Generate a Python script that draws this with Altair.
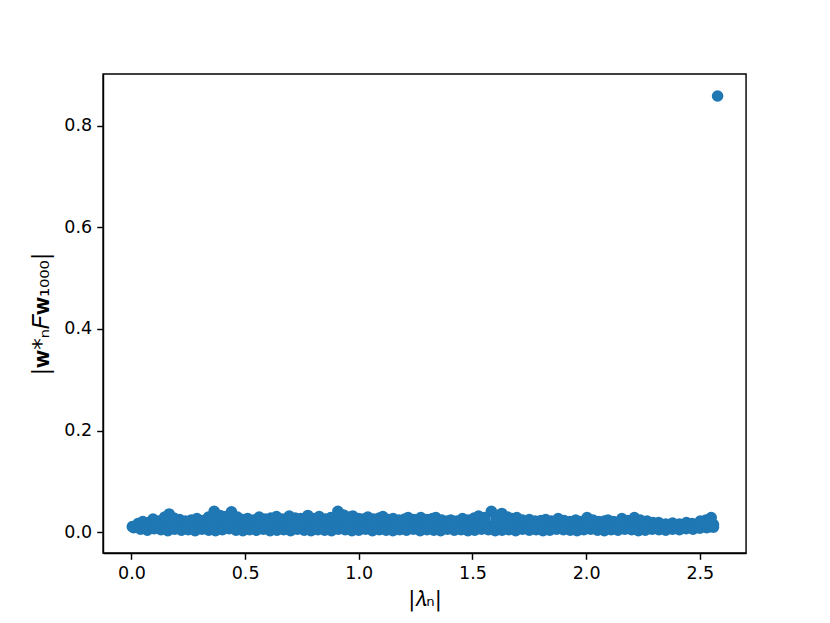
import altair as alt
import pandas as pd

# Upper edge of the dense band (|lambda_n|, |w_n^* F w_1000|)
upper_lam = [0.004, 0.029, 0.050, 0.075, 0.095, 0.121, 0.146, 0.166, 0.187, 0.212,
             0.237, 0.263, 0.288, 0.314, 0.339, 0.364, 0.390, 0.415, 0.440, 0.466,
             0.491, 0.511, 0.537, 0.562, 0.588, 0.613, 0.638, 0.664, 0.694, 0.720,
             0.745, 0.776, 0.801, 0.826, 0.852, 0.877, 0.908, 0.933, 0.958, 0.974,
             0.999, 1.019, 1.040, 1.065, 1.090, 1.106, 1.131, 1.151, 1.177, 1.202,
             1.217, 1.243, 1.273, 1.299, 1.324, 1.339, 1.365, 1.390, 1.405, 1.431,
             1.456, 1.481, 1.507, 1.527, 1.552, 1.583, 1.608, 1.629, 1.654, 1.674,
             1.695, 1.720, 1.750, 1.776, 1.801, 1.822, 1.847, 1.877, 1.903, 1.928,
             1.954, 1.974, 2.004, 2.030, 2.055, 2.080, 2.096, 2.121, 2.157, 2.182,
             2.212, 2.238, 2.268, 2.294, 2.319, 2.350, 2.380, 2.410, 2.441, 2.466,
             2.502, 2.527, 2.550, 2.560]
upper_w = [0.011, 0.017, 0.021, 0.019, 0.026, 0.022, 0.030, 0.036, 0.028, 0.025,
           0.022, 0.024, 0.027, 0.023, 0.030, 0.041, 0.033, 0.031, 0.040, 0.030,
           0.025, 0.027, 0.024, 0.030, 0.026, 0.028, 0.031, 0.026, 0.032, 0.028,
           0.027, 0.033, 0.027, 0.031, 0.026, 0.029, 0.041, 0.034, 0.030, 0.032,
           0.027, 0.026, 0.030, 0.026, 0.028, 0.031, 0.025, 0.027, 0.024, 0.026,
           0.029, 0.025, 0.029, 0.025, 0.027, 0.029, 0.024, 0.022, 0.024, 0.022,
           0.027, 0.024, 0.028, 0.032, 0.029, 0.041, 0.033, 0.037, 0.030, 0.027,
           0.029, 0.024, 0.025, 0.022, 0.023, 0.025, 0.022, 0.027, 0.023, 0.021,
           0.024, 0.021, 0.029, 0.024, 0.021, 0.022, 0.024, 0.021, 0.027, 0.023,
           0.029, 0.024, 0.022, 0.019, 0.019, 0.016, 0.018, 0.016, 0.019, 0.017,
           0.022, 0.024, 0.029, 0.015]

# Inner rows of the band
inner_lam_a = [0.03, 0.08, 0.13, 0.18, 0.23, 0.28, 0.33, 0.38, 0.43, 0.48,
               0.53, 0.58, 0.63, 0.68, 0.73, 0.78, 0.83, 0.88, 0.93, 0.98,
               1.03, 1.08, 1.13, 1.18, 1.23, 1.28, 1.33, 1.38, 1.43, 1.48,
               1.53, 1.58, 1.63, 1.68, 1.73, 1.78, 1.83, 1.88, 1.93, 1.98,
               2.03, 2.08, 2.13, 2.18, 2.23, 2.28, 2.33, 2.38, 2.43, 2.48, 2.53]
inner_w_a = [0.012, 0.015, 0.013, 0.017, 0.014, 0.016, 0.012, 0.018, 0.015, 0.013,
             0.016, 0.014, 0.017, 0.012, 0.015, 0.018, 0.013, 0.016, 0.014, 0.012,
             0.017, 0.015, 0.013, 0.016, 0.014, 0.012, 0.015, 0.017, 0.013, 0.014,
             0.016, 0.012, 0.015, 0.013, 0.017, 0.014, 0.012, 0.016, 0.015, 0.013,
             0.014, 0.012, 0.016, 0.013, 0.015, 0.012, 0.014, 0.013, 0.012, 0.015, 0.016]

inner_lam_b = [0.055, 0.105, 0.155, 0.205, 0.255, 0.305, 0.355, 0.405, 0.455, 0.505,
               0.555, 0.605, 0.655, 0.705, 0.755, 0.805, 0.855, 0.905, 0.955, 1.005,
               1.055, 1.105, 1.155, 1.205, 1.255, 1.305, 1.355, 1.405, 1.455, 1.505,
               1.555, 1.605, 1.655, 1.705, 1.755, 1.805, 1.855, 1.905, 1.955, 2.005,
               2.055, 2.105, 2.155, 2.205, 2.255, 2.305, 2.355, 2.405, 2.455, 2.505, 2.545]
inner_w_b = [0.016, 0.019, 0.024, 0.021, 0.018, 0.020, 0.026, 0.027, 0.028, 0.020,
             0.022, 0.021, 0.024, 0.025, 0.022, 0.023, 0.021, 0.030, 0.025, 0.021,
             0.022, 0.024, 0.020, 0.022, 0.021, 0.020, 0.020, 0.018, 0.021, 0.023,
             0.026, 0.027, 0.024, 0.020, 0.019, 0.019, 0.020, 0.018, 0.018, 0.022,
             0.018, 0.018, 0.021, 0.022, 0.018, 0.015, 0.013, 0.013, 0.014, 0.018, 0.022]
inner_w_c = [0.010, 0.012, 0.009, 0.011, 0.013, 0.010, 0.012, 0.009, 0.011, 0.010,
             0.013, 0.009, 0.011, 0.012, 0.010, 0.009, 0.012, 0.011, 0.010, 0.013,
             0.009, 0.011, 0.010, 0.012, 0.009, 0.011, 0.013, 0.010, 0.012, 0.009,
             0.011, 0.010, 0.012, 0.009, 0.011, 0.013, 0.010, 0.009, 0.012, 0.011,
             0.010, 0.012, 0.009, 0.011, 0.010, 0.012, 0.009, 0.011, 0.010, 0.012, 0.011]

# Lower edge of the band
lower_lam = [0.01, 0.04, 0.07, 0.10, 0.13, 0.16, 0.19, 0.22, 0.25, 0.28,
             0.31, 0.34, 0.37, 0.40, 0.43, 0.46, 0.49, 0.52, 0.55, 0.58,
             0.61, 0.64, 0.67, 0.70, 0.73, 0.76, 0.79, 0.82, 0.85, 0.88,
             0.91, 0.94, 0.97, 1.00, 1.03, 1.06, 1.09, 1.12, 1.15, 1.18,
             1.21, 1.24, 1.27, 1.30, 1.33, 1.36, 1.39, 1.42, 1.45, 1.48,
             1.51, 1.54, 1.57, 1.60, 1.63, 1.66, 1.69, 1.72, 1.75, 1.78,
             1.81, 1.84, 1.87, 1.90, 1.93, 1.96, 1.99, 2.02, 2.05, 2.08,
             2.11, 2.14, 2.17, 2.20, 2.23, 2.26, 2.29, 2.32, 2.35, 2.38,
             2.41, 2.44, 2.47, 2.50, 2.53, 2.56]
lower_w = [0.009, 0.006, 0.004, 0.007, 0.005, 0.003, 0.006, 0.004, 0.005, 0.003,
           0.006, 0.004, 0.003, 0.005, 0.007, 0.004, 0.003, 0.005, 0.004, 0.006,
           0.003, 0.004, 0.005, 0.003, 0.006, 0.004, 0.003, 0.005, 0.004, 0.003,
           0.006, 0.005, 0.003, 0.004, 0.006, 0.003, 0.005, 0.004, 0.003, 0.005,
           0.004, 0.006, 0.003, 0.005, 0.004, 0.003, 0.006, 0.004, 0.005, 0.003,
           0.004, 0.006, 0.005, 0.003, 0.004, 0.005, 0.003, 0.006, 0.004, 0.005,
           0.003, 0.004, 0.006, 0.005, 0.004, 0.003, 0.005, 0.006, 0.004, 0.003,
           0.005, 0.004, 0.006, 0.005, 0.003, 0.004, 0.006, 0.005, 0.004, 0.006,
           0.005, 0.007, 0.006, 0.008, 0.009, 0.010]

# The isolated point
outlier_lam = [2.578]
outlier_w = [0.858]

x_ticks = [0.0, 0.5, 1.0, 1.5, 2.0, 2.5]
y_ticks = [0.0, 0.2, 0.4, 0.6, 0.8]

rows = []
for xs, ys in ((upper_lam, upper_w), (inner_lam_a, inner_w_a),
               (inner_lam_b, inner_w_b), (inner_lam_b, inner_w_c),
               (lower_lam, lower_w), (outlier_lam, outlier_w)):
    rows += [{"lam": a, "w": b} for a, b in zip(xs, ys)]
df = pd.DataFrame(rows)

chart = alt.Chart(df).mark_circle(size=135, color="#1f77b4", opacity=1).encode(
    x=alt.X("lam:Q",
            scale=alt.Scale(domain=[-0.125, 2.703], nice=False, zero=False),
            axis=alt.Axis(values=x_ticks, format=".1f", title="|𝜆ₙ|",
                          titleFontSize=21, titlePadding=7)),
    y=alt.Y("w:Q",
            scale=alt.Scale(domain=[-0.0408, 0.9013], nice=False, zero=False),
            axis=alt.Axis(values=y_ticks, format=".1f", title="|𝐰*ₙ𝐹𝐰₁₀₀₀|",
                          titleFontSize=23, titlePadding=10)),
).properties(
    width=643, height=479, autosize="none",
    padding={"left": 95, "top": 66, "right": 60, "bottom": 60},
).configure_axis(
    grid=False, domainColor="black", domainWidth=1.44,
    tickColor="black", tickWidth=1.44, tickSize=6.3,
    labelFont="DejaVu Sans", labelFontSize=17.5, labelColor="black", labelPadding=5,
    titleFont="DejaVu Sans", titleFontWeight="normal", titleColor="black",
).configure_view(stroke="black", strokeWidth=1.44)

chart.save("out.html", embed_options={"renderer": "svg", "actions": False})
